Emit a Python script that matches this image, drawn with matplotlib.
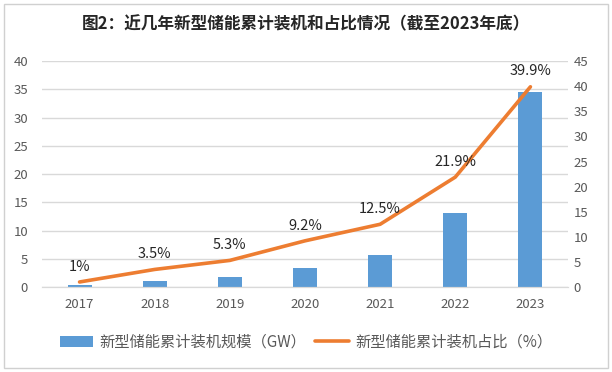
import matplotlib.pyplot as plt
from matplotlib.patches import Rectangle

plt.rcParams['font.family'] = ['Noto Sans CJK SC', 'DejaVu Sans']

# Data
years = ['2017', '2018', '2019', '2020', '2021', '2022', '2023']
capacity_gw = [0.4, 1.06, 1.77, 3.35, 5.7, 13.1, 34.5]
share_pct = [1, 3.5, 5.3, 9.2, 12.5, 21.9, 39.9]
share_labels = ['1%', '3.5%', '5.3%', '9.2%', '12.5%', '21.9%', '39.9%']

bar_color = '#5B9BD5'
line_color = '#ED7D31'
grid_color = '#D9D9D9'
text_color = '#595959'

fig = plt.figure(figsize=(6.12, 3.72), dpi=100)
ax = fig.add_axes([0.0686, 0.2285, 0.8595, 0.607])
ax2 = ax.twinx()

x = range(len(years))
ax.bar(x, capacity_gw, width=0.32, color=bar_color, zorder=2,
       label='新型储能累计装机规模（GW）')
ax2.plot(x, share_pct, color=line_color, linewidth=2.6, solid_capstyle='round',
         zorder=3, label='新型储能累计装机占比（%）')

for xi, v, lab in zip(x, share_pct, share_labels):
    ax2.annotate(lab, (xi, v), xytext=(0, 6), textcoords='offset points',
                 ha='center', va='bottom', fontsize=10.5, color='#262626')

ax.set_xlim(-0.5, len(years) - 0.5)
ax.set_ylim(0, 40)
ax.set_yticks(range(0, 41, 5))
ax2.set_ylim(0, 45)
ax2.set_yticks(range(0, 46, 5))
ax.set_xticks(list(x))
ax.set_xticklabels(years)

ax.grid(axis='y', color=grid_color, linewidth=1, zorder=0)
ax.set_axisbelow(True)
for a in (ax, ax2):
    for s in ('top', 'left', 'right'):
        a.spines[s].set_visible(False)
    a.spines['bottom'].set_color(grid_color)
    a.tick_params(length=0, labelsize=9.5, colors=text_color)
ax.tick_params(axis='x', pad=8)
ax.tick_params(axis='y', pad=10)
ax2.tick_params(axis='y', pad=4)

fig.text(0.5, 0.935, '图2：近几年新型储能累计装机和占比情况（截至2023年底）',
         ha='center', va='center', fontsize=12, fontweight='bold', color='#262626')

h1, l1 = ax.get_legend_handles_labels()
h2, l2 = ax2.get_legend_handles_labels()
fig.legend(h1 + h2, l1 + l2, loc='center', bbox_to_anchor=(0.5, 0.08), ncol=2,
           frameon=False, fontsize=11, labelcolor=text_color,
           handlelength=2.2, columnspacing=0.6, handletextpad=0.4)

fig.patches.append(Rectangle((0.007, 0.01), 0.986, 0.98, transform=fig.transFigure,
                             fill=False, edgecolor='#D0D0D0', linewidth=1))

fig.savefig('out.png', dpi=100)
